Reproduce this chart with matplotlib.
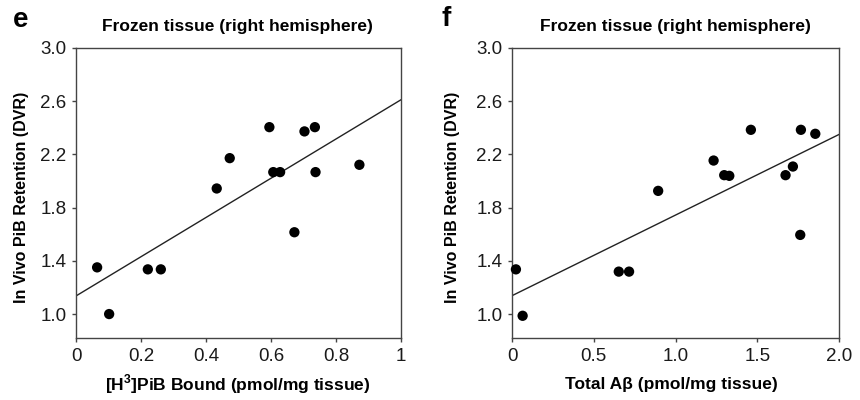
import matplotlib
matplotlib.use("Agg")
import matplotlib.pyplot as plt
import numpy as np

plt.rcParams['font.family'] = ['Liberation Sans', 'DejaVu Sans']
plt.rcParams['mathtext.fontset'] = 'custom'
plt.rcParams['mathtext.rm'] = 'Liberation Sans:bold'
plt.rcParams['mathtext.bf'] = 'Liberation Sans:bold'

# Panel e data
e_x = [0.065, 0.102, 0.221, 0.261, 0.433, 0.473, 0.595, 0.607, 0.628, 0.672, 0.703, 0.735, 0.737, 0.872]
e_y = [1.351, 1.000, 1.336, 1.336, 1.944, 2.172, 2.405, 2.067, 2.067, 1.615, 2.373, 2.405, 2.067, 2.122]
e_line_x = [0.0, 1.0]
e_line_y = [1.136, 2.611]

# Panel f data
f_x = [0.024, 0.065, 0.653, 0.716, 0.894, 1.233, 1.298, 1.329, 1.461, 1.673, 1.718, 1.767, 1.763, 1.855]
f_y = [1.336, 0.987, 1.319, 1.319, 1.926, 2.154, 2.044, 2.039, 2.385, 2.044, 2.109, 2.385, 1.595, 2.355]
f_line_x = [0.0, 2.0]
f_line_y = [1.138, 2.350]

yticks = [1.0, 1.4, 1.8, 2.2, 2.6, 3.0]
e_xticks = [0, 0.2, 0.4, 0.6, 0.8, 1]
e_xticklabels = ['0', '0.2', '0.4', '0.6', '0.8', '1']
f_xticks = [0, 0.5, 1.0, 1.5, 2.0]
f_xticklabels = ['0', '0.5', '1.0', '1.5', '2.0']

title = 'Frozen tissue (right hemisphere)'
ylabel = 'In Vivo PiB Retention (DVR)'
e_xlabel = r'[H$^{\mathrm{3}}$]PiB Bound (pmol/mg tissue)'
f_xlabel = 'Total A\u03b2 (pmol/mg tissue)'

fig = plt.figure(figsize=(8.6, 4.0), dpi=100)
ax1 = fig.add_axes([76/860, 1-338/400, (401-76)/860, (338-48)/400])
ax2 = fig.add_axes([512/860, 1-338/400, (839-512)/860, (338-48)/400])

spine_c = '#444444'
for ax, xs, ys, lx, ly, xt, xtl, xlim, xlab in [
        (ax1, e_x, e_y, e_line_x, e_line_y, e_xticks, e_xticklabels, (0, 1), e_xlabel),
        (ax2, f_x, f_y, f_line_x, f_line_y, f_xticks, f_xticklabels, (0, 2), f_xlabel)]:
    ax.plot(lx, ly, color='#222222', lw=1.0, zorder=2)
    ax.scatter(xs, ys, s=55, color='black', zorder=3, edgecolors='none', clip_on=False)
    ax.set_xlim(*xlim)
    ax.set_ylim(0.82, 3.0)
    ax.set_yticks(yticks)
    ax.set_yticklabels([f'{v:.1f}' for v in yticks])
    ax.set_xticks(xt)
    ax.set_xticklabels(xtl)
    for s in ax.spines.values():
        s.set_color(spine_c)
        s.set_linewidth(1.0)
    ax.tick_params(direction='out', length=3, width=1, color=spine_c,
                   labelsize=13.5, labelcolor='#1a1a1a', pad=4)

# Labels
fig.text(237/860, 1-26/400, title, ha='center', va='center', fontsize=12.5, fontweight='bold')
fig.text(675/860, 1-26/400, title, ha='center', va='center', fontsize=12.5, fontweight='bold')
fig.text(238/860, 1-384/400, e_xlabel, ha='center', va='center', fontsize=12.5, fontweight='bold')
fig.text(671/860, 1-384/400, f_xlabel, ha='center', va='center', fontsize=12.5, fontweight='bold')
fig.text(22/860, 1-197/400, ylabel, ha='center', va='center', rotation=90, fontsize=11.5, fontweight='bold')
fig.text(452/860, 1-197/400, ylabel, ha='center', va='center', rotation=90, fontsize=11.5, fontweight='bold')
fig.text(13/860, 1-20/400, 'e', ha='left', va='center', fontsize=20, fontweight='bold')
fig.text(442/860, 1-19/400, 'f', ha='left', va='center', fontsize=20, fontweight='bold')

fig.savefig('out.png', dpi=100)
